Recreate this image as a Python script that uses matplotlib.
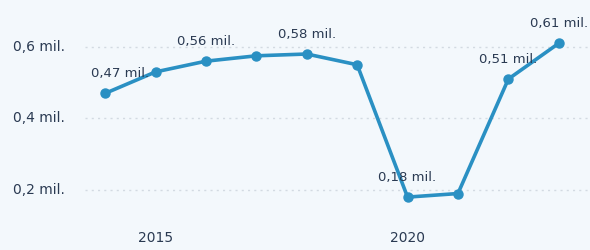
import matplotlib.pyplot as plt
import matplotlib.transforms as mtransforms

years = [2014, 2015, 2016, 2017, 2018, 2019, 2020, 2021, 2022, 2023]
values = [0.47, 0.53, 0.56, 0.575, 0.58, 0.55, 0.18, 0.19, 0.51, 0.61]
labelled = {2014: "0,47 mil.", 2016: "0,56 mil.", 2018: "0,58 mil.",
            2020: "0,18 mil.", 2022: "0,51 mil.", 2023: "0,61 mil."}
yticks = [0.2, 0.4, 0.6]
ytick_labels = ["0,2 mil.", "0,4 mil.", "0,6 mil."]
xticks = [2015, 2020]

bg = "#f3f8fc"
line_col = "#2a90c3"
text_col = "#2a3a52"

plt.rcParams['font.family'] = ['DejaVu Sans']

fig = plt.figure(figsize=(5.9, 2.5), dpi=100, facecolor=bg)
ax = fig.add_axes([85 / 590, 30 / 250, 505 / 590, 220 / 250])
ax.set_facecolor(bg)

ax.plot(years, values, color=line_col, lw=2.6, marker='o', ms=6.5,
        solid_joinstyle='round', zorder=3)

# value labels above selected points
for x, y in zip(years, values):
    if x in labelled:
        dx = 15 if x == 2014 else 0
        ax.annotate(labelled[x], (x, y), xytext=(dx, 20), textcoords='offset pixels',
                    ha='center', va='center', fontsize=9.5, color=text_col, zorder=4,
                    annotation_clip=False)

ax.set_xlim(2013.6, 2023.62)
ax.set_ylim(0.116, 0.731)
ax.set_yticks(yticks)
ax.set_yticklabels([])
ax.set_xticks(xticks)
ax.set_xticklabels([str(t) for t in xticks], fontsize=10, color=text_col)
ax.tick_params(axis='x', length=0, pad=8)
ax.tick_params(axis='y', length=0)
ax.grid(axis='y', color='#d3dae2', lw=1, ls=(0, (1.5, 3)))
for s in ax.spines.values():
    s.set_visible(False)

# y labels left aligned at the figure edge
trans = mtransforms.blended_transform_factory(fig.transFigure, ax.transData)
for t, lab in zip(yticks, ytick_labels):
    ax.text(13 / 590, t, lab, transform=trans, fontsize=10,
            color=text_col, ha='left', va='center')

fig.savefig("out.png", dpi=100, facecolor=bg)
